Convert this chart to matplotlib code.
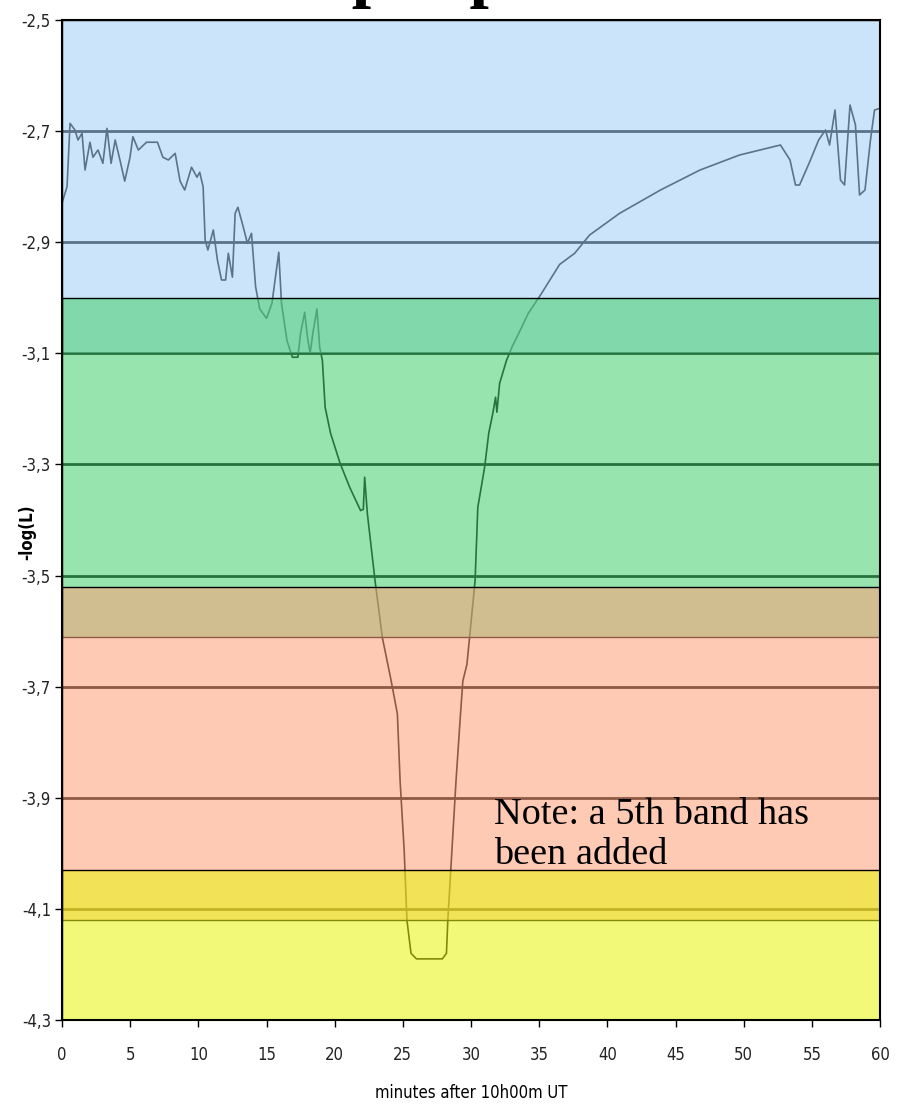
"""Light curve of the occultation with the brightness bands overlaid."""
import matplotlib
matplotlib.use("Agg")
import matplotlib.pyplot as plt
from matplotlib.ticker import FuncFormatter

# minutes after 10h00m UT and -log(L)
minutes = [0.0, 0.07, 0.37, 0.59, 0.95, 1.17, 1.47, 1.69, 2.05, 2.27, 2.64, 3.0,
           3.3, 3.6, 3.9, 4.25, 4.6, 4.99, 5.2, 5.6, 6.2, 7.0, 7.4, 7.8, 8.3,
           8.66, 9.0, 9.5, 9.9, 10.1, 10.35, 10.5, 10.7, 11.1, 11.4, 11.7, 12.0,
           12.2, 12.5, 12.7, 12.9, 13.3, 13.6, 13.9, 14.2, 14.5, 15.0, 15.4,
           15.9, 16.1, 16.5, 16.9, 17.3, 17.5, 17.8, 18.0, 18.2, 18.4, 18.7,
           18.9, 19.1, 19.3, 19.7, 20.4, 21.1, 21.9, 22.1, 22.2, 22.4, 22.96,
           23.5, 24.1, 24.6, 24.8, 25.1, 25.3, 25.6, 26.0, 27.0, 27.9, 28.2,
           28.3, 28.6, 28.9, 29.2, 29.4, 29.7, 29.9, 30.3, 30.5, 31.0, 31.3,
           31.6, 31.8, 31.9, 32.1, 32.6, 33.0, 33.6, 34.2, 35.1, 36.5, 37.6,
           38.7, 40.9, 43.9, 46.8, 49.7, 51.2, 52.7, 53.4, 53.8, 54.1, 54.9,
           55.5, 56.0, 56.3, 56.7, 57.1, 57.4, 57.8, 58.2, 58.5, 58.9, 59.3,
           59.6, 60.0]
neg_log_l = [-2.83, -2.824, -2.80, -2.686, -2.698, -2.716, -2.704, -2.77, -2.72,
             -2.747, -2.734, -2.758, -2.695, -2.758, -2.716, -2.752, -2.79,
             -2.747, -2.71, -2.734, -2.72, -2.72, -2.747, -2.752, -2.74, -2.79,
             -2.806, -2.765, -2.783, -2.774, -2.80, -2.896, -2.914, -2.878,
             -2.932, -2.968, -2.968, -2.92, -2.963, -2.848, -2.837, -2.873,
             -2.902, -2.884, -2.98, -3.02, -3.037, -3.01, -2.918, -3.01, -3.077,
             -3.107, -3.107, -3.064, -3.026, -3.07, -3.10, -3.064, -3.02, -3.089,
             -3.113, -3.197, -3.244, -3.298, -3.341, -3.383, -3.381, -3.323,
             -3.389, -3.509, -3.612, -3.684, -3.749, -3.87, -3.995, -4.12, -4.18,
             -4.19, -4.19, -4.19, -4.18, -4.12, -3.995, -3.87, -3.76, -3.69,
             -3.66, -3.61, -3.509, -3.377, -3.305, -3.244, -3.208, -3.179, -3.206,
             -3.154, -3.113, -3.089, -3.059, -3.028, -2.995, -2.94, -2.92,
             -2.887, -2.848, -2.806, -2.77, -2.743, -2.734, -2.725, -2.752,
             -2.797, -2.797, -2.752, -2.716, -2.698, -2.725, -2.662, -2.788,
             -2.797, -2.653, -2.689, -2.815, -2.806, -2.716, -2.662, -2.659]

# brightness bands (top, bottom) and their fill colours, drawn in this order
band_top = [-2.5, -3.0, -3.52, -4.03]
band_bottom = [-3.1, -3.61, -4.12, -4.3]
band_rgb = [(164, 207, 246), (71, 207, 111), (255, 161, 121), (232, 246, 14)]
band_alpha = 0.56

x_ticks = list(range(0, 61, 5))
y_ticks = [-2.5, -2.7, -2.9, -3.1, -3.3, -3.5, -3.7, -3.9, -4.1, -4.3]

narrow = dict(family="DejaVu Sans", stretch="condensed")

fig = plt.figure(figsize=(8.99, 11.13), dpi=100)
ax = fig.add_axes([62 / 899, 1 - 1020 / 1113, 818 / 899, 1000 / 1113])

# grid and curve sit underneath the translucent bands
for y in y_ticks[1:-1]:
    ax.axhline(y, color="black", lw=2, zorder=1)
ax.plot(minutes, neg_log_l, color="black", lw=1.2, zorder=1.5)

for top, bot, rgb in zip(band_top, band_bottom, band_rgb):
    face = tuple(c / 255 for c in rgb) + (band_alpha,)
    ax.axhspan(bot, top, facecolor=face, edgecolor="black", lw=1, zorder=2)

ax.set_xlim(0, 60)
ax.set_ylim(-4.3, -2.5)
ax.set_xticks(x_ticks)
ax.set_yticks(y_ticks)
ax.yaxis.set_major_formatter(FuncFormatter(lambda v, _: f"{v:.1f}".replace(".", ",")))
ax.tick_params(axis="both", direction="out", length=5, width=1, color="black")
ax.tick_params(axis="x", pad=14)
ax.tick_params(axis="y", pad=3)
for lab in ax.get_xticklabels() + ax.get_yticklabels():
    lab.set_fontfamily(narrow["family"])
    lab.set_fontstretch(narrow["stretch"])
    lab.set_fontsize(12)
    lab.set_color("#222222")
for sp in ax.spines.values():
    sp.set_linewidth(1.5)
    sp.set_zorder(3)

ax.set_xlabel("minutes after 10h00m UT", fontsize=12, labelpad=14, **narrow)
fig.text(0.03, 0.522, "-log(L)", rotation=90, ha="center", va="center",
         fontsize=12, fontweight="bold", **narrow)

ax.text(31.7, -3.966, "Note: a 5th band has\nbeen added", family="Liberation Serif",
        fontsize=27.5, ha="left", va="center", linespacing=1.2, zorder=4)

# heading runs off the top edge of the page
fig.text(236 / 899, 1 + 6 / 1113, "Output plot", family="Liberation Serif",
         fontweight="bold", fontsize=50, ha="left", va="baseline")

fig.savefig("out.png", dpi=100)
